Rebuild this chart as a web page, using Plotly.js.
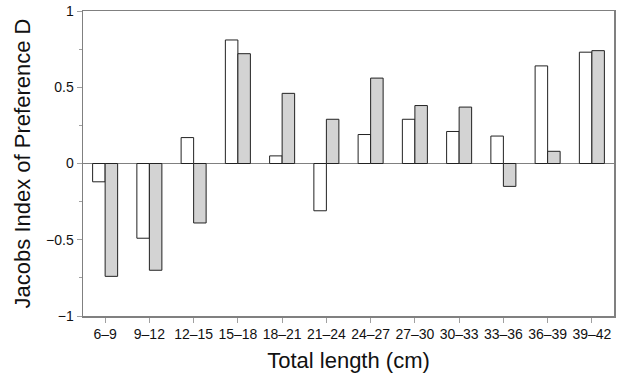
<!DOCTYPE html>
<html>
<head>
<meta charset="utf-8">
<script src="https://cdn.plot.ly/plotly-3.0.1.min.js"></script>
<style>html,body{margin:0;padding:0;background:#fff;}#chart{width:618px;height:379px;}</style>
</head>
<body>
<div id="chart"></div>
<script>
const categories = ["6–9","9–12","12–15","15–18","18–21","21–24","24–27","27–30","30–33","33–36","36–39","39–42"];
const whiteValues = [-0.12, -0.49, 0.17, 0.81, 0.05, -0.31, 0.19, 0.29, 0.21, 0.18, 0.64, 0.73];
const greyValues  = [-0.74, -0.70, -0.39, 0.72, 0.46, 0.29, 0.56, 0.38, 0.37, -0.15, 0.08, 0.74];
const yTickVals = [-1, -0.5, 0, 0.5, 1];
const yTickText = ["−1", "−0.5", "0", "0.5", "1"];

const font = "Liberation Sans, Arial, Helvetica, sans-serif";
const traces = [
  {type: "bar", x: categories, y: whiteValues, name: "white",
   marker: {color: "#ffffff", line: {color: "#222222", width: 1}}},
  {type: "bar", x: categories, y: greyValues, name: "grey",
   marker: {color: "#d3d3d3", line: {color: "#222222", width: 1}}}
];
const layout = {
  width: 618, height: 379,
  margin: {l: 83, r: 4, t: 11, b: 63},
  paper_bgcolor: "#ffffff", plot_bgcolor: "#ffffff",
  showlegend: false,
  barmode: "group", bargap: 0.435, bargroupgap: 0,
  font: {family: font, color: "#111111", size: 14},
  xaxis: {
    type: "category", categoryorder: "array", categoryarray: categories,
    showline: true, linecolor: "#808080", linewidth: 1.5, mirror: true,
    ticks: "outside", ticklen: 5, tickcolor: "#a0a0a0", tickwidth: 1,
    showgrid: false, zeroline: false,
    tickfont: {family: font, size: 14, color: "#111111"},
    title: {text: "Total length (cm)", font: {family: font, size: 22, color: "#111111"}, standoff: 11}
  },
  xaxis2: {
    overlaying: "x", anchor: "y", range: [-0.5, 11.5], tickvals: [0,1,2,3,4,5,6,7,8,9,10,11],
    ticks: "inside", ticklen: 5, tickcolor: "#a0a0a0", tickwidth: 1,
    showticklabels: false, showgrid: false, zeroline: false, showline: false
  },
  yaxis: {
    range: [-1, 1], tickvals: yTickVals, ticktext: yTickText,
    showline: true, linecolor: "#808080", linewidth: 1.5, mirror: true,
    ticks: "outside", ticklen: 5, tickcolor: "#a0a0a0", tickwidth: 1,
    minor: {tickvals: [-0.75, -0.25, 0.25, 0.75], ticks: "outside", ticklen: 3, tickcolor: "#a0a0a0", showgrid: false},
    showgrid: false, zeroline: true, zerolinecolor: "#808080", zerolinewidth: 1.5,
    tickfont: {family: font, size: 14, color: "#111111"},
    title: {text: "Jacobs Index of Preference D", font: {family: font, size: 22, color: "#111111"}, standoff: 9}
  }
};
Plotly.newPlot("chart", traces, layout, {staticPlot: true, displayModeBar: false});
</script>
</body>
</html>
